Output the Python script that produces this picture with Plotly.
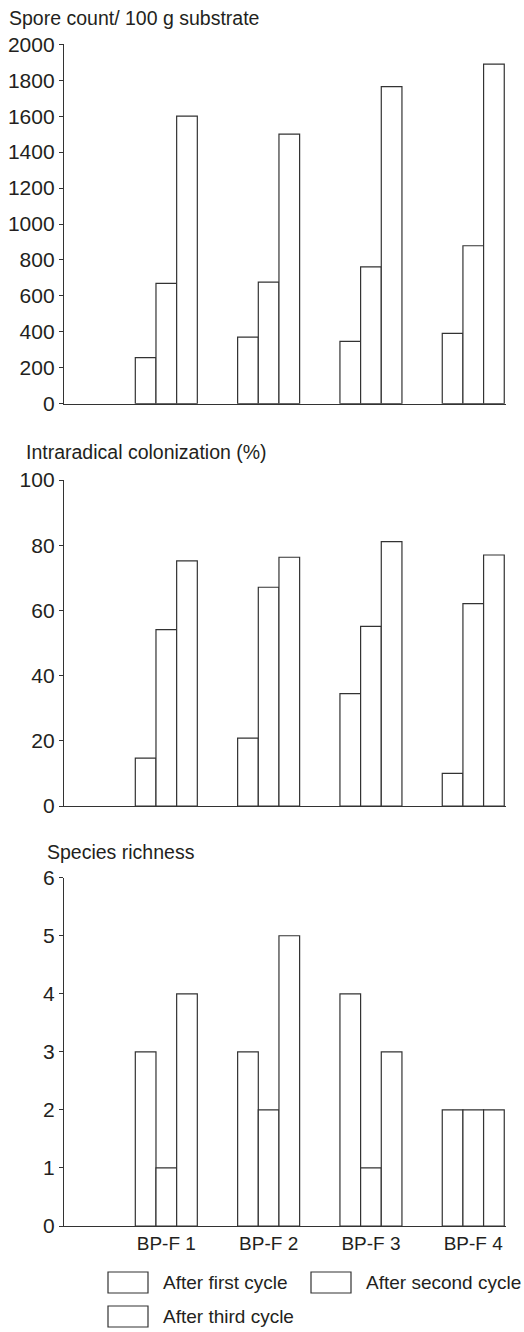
import plotly.graph_objects as go

W, H = 524, 1332

categories = ["BP-F 1", "BP-F 2", "BP-F 3", "BP-F 4"]
series_names = ["After first cycle", "After second cycle", "After third cycle"]

spore_first = [256, 371, 347, 391]
spore_second = [670, 677, 761, 879]
spore_third = [1600, 1500, 1764, 1890]

colon_first = [14.7, 20.8, 34.5, 10.0]
colon_second = [54.1, 67.1, 55.1, 62.1]
colon_third = [75.2, 76.3, 81.1, 77.0]

rich_first = [3, 3, 4, 2]
rich_second = [1, 2, 1, 2]
rich_third = [4, 5, 3, 2]

panel_titles = ["Spore count/ 100 g substrate", "Intraradical colonization (%)", "Species richness"]
y_ranges = [[0, 2000], [0, 100], [0, 6]]
y_dticks = [200, 20, 1]

panels = [
    [spore_first, spore_second, spore_third],
    [colon_first, colon_second, colon_third],
    [rich_first, rich_second, rich_third],
]

TXT = "#231F20"
LINE = "#333333"
FONT = "Liberation Sans, Arial, sans-serif"


def py(pix):
    return 1 - pix / H


def px(pix):
    return pix / W


# pixel geometry (top, bottom) of each plot area
y_pix = [(44.3, 403.7), (480.0, 806.0), (877.7, 1226.0)]
x_dom = [px(64), px(506)]
title_pos = [(7, 18), (24, 452), (45, 852)]

fig = go.Figure()

for i, series in enumerate(panels):
    ax = "" if i == 0 else str(i + 1)
    for name, vals in zip(series_names, series):
        fig.add_trace(go.Bar(
            x=categories, y=vals, name=name,
            xaxis="x" + ax, yaxis="y" + ax,
            marker=dict(color="white", line=dict(color=LINE, width=1.2)),
            showlegend=False,
        ))
    top, bot = y_pix[i]
    fig.layout["xaxis" + ax] = dict(
        domain=x_dom, anchor="y" + ax, range=[-1.0, 3.32],
        showline=True, linecolor=LINE, linewidth=1.3,
        showgrid=False, zeroline=False, ticks="",
        showticklabels=(i == 2), automargin=False,
        tickfont=dict(family=FONT, size=19, color=TXT),
        fixedrange=True,
    )
    fig.layout["yaxis" + ax] = dict(
        domain=[py(bot), py(top)], anchor="x" + ax,
        range=y_ranges[i], dtick=y_dticks[i], tick0=0,
        showline=True, linecolor=LINE, linewidth=1.3,
        showgrid=False, zeroline=False, automargin=False,
        ticks="outside", ticklen=4, tickcolor=LINE, tickwidth=1,
        tickfont=dict(family=FONT, size=21, color=TXT),
        fixedrange=True,
    )
    tx, ty = title_pos[i]
    fig.add_annotation(
        text=panel_titles[i], xref="paper", yref="paper",
        x=px(tx), y=py(ty), xanchor="left", yanchor="middle",
        showarrow=False, font=dict(family=FONT, size=19.5, color=TXT),
    )

# legend drawn manually
legend_items = [
    (108, 1272, 1293, 161),
    (311, 1272, 1293, 364),
    (108, 1306, 1327, 161),
]
for name, (bx, by0, by1, tx) in zip(series_names, legend_items):
    fig.add_shape(
        type="rect", xref="paper", yref="paper",
        x0=px(bx), x1=px(bx + 40), y0=py(by1), y1=py(by0),
        fillcolor="white", line=dict(color=LINE, width=1.2),
    )
    fig.add_annotation(
        text=name, xref="paper", yref="paper",
        x=px(tx), y=py((by0 + by1) / 2), xanchor="left", yanchor="middle",
        showarrow=False, font=dict(family=FONT, size=19, color=TXT),
    )

fig.update_layout(
    width=W, height=H, autosize=False,
    margin=dict(l=0, r=0, t=0, b=0, pad=0, autoexpand=False),
    paper_bgcolor="white", plot_bgcolor="white",
    barmode="group", bargap=0.394, bargroupgap=0,
    showlegend=False,
)

fig.write_html(
    "out.html",
    config={"displayModeBar": False, "responsive": False},
    post_script="document.body.style.margin='0';document.body.style.overflow='hidden';",
)
